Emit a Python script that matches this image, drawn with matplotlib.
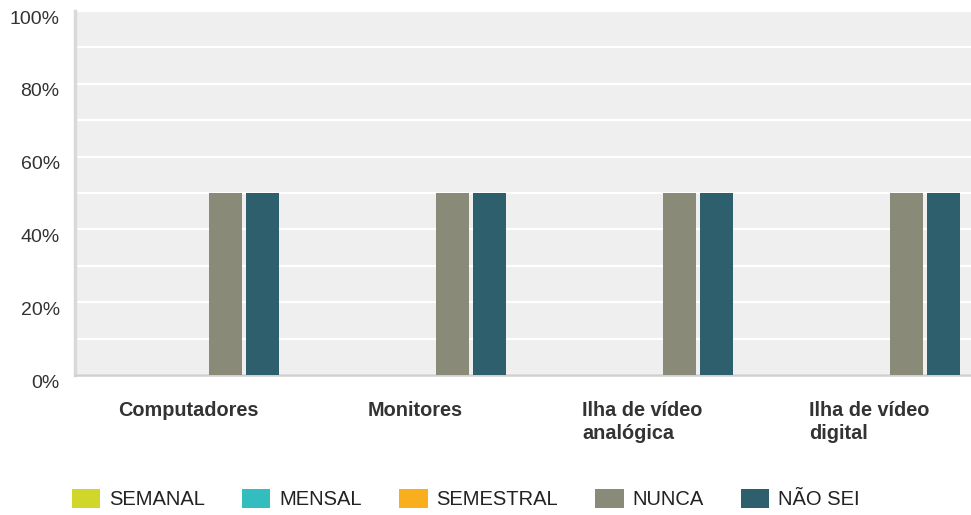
import numpy as np
import matplotlib
matplotlib.use("Agg")
import matplotlib.pyplot as plt
import matplotlib.transforms as mtransforms
from matplotlib.patches import FancyBboxPatch

plt.rcParams['font.family'] = ['Liberation Sans', 'DejaVu Sans']

# data
categories = ['Computadores', 'Monitores', 'Ilha de vídeo\nanalógica', 'Ilha de vídeo\ndigital']
series = ['SEMANAL', 'MENSAL', 'SEMESTRAL', 'NUNCA', 'NÃO SEI']
values = {
    'SEMANAL':   [0, 0, 0, 0],
    'MENSAL':    [0, 0, 0, 0],
    'SEMESTRAL': [0, 0, 0, 0],
    'NUNCA':     [50, 50, 50, 50],
    'NÃO SEI':   [50, 50, 50, 50],
}
colors = ['#d1d62b', '#33bdbf', '#f8ae1d', '#898a78', '#2e5f6d']
yticks = [0, 20, 40, 60, 80, 100]

fig = plt.figure(figsize=(9.71, 5.15), dpi=100)
ax = fig.add_axes([75 / 971, 140 / 515, 896 / 971, 364 / 515])
ax.set_facecolor('#efefef')

x = np.arange(len(categories))
slot = 37 / 227
bw = 33 / 227
for j, s in enumerate(series):
    ax.bar(x + (j - 2) * slot, values[s], width=bw, color=colors[j], label=s, zorder=3)

ax.set_xlim(-0.5, -0.5 + 896 / 227)
ax.set_ylim(0, 100)

# gridlines every 10%
ax.set_yticks(yticks)
ax.set_yticks(np.arange(10, 100, 10), minor=True)
ax.yaxis.grid(True, which='both', color='white', linewidth=1.6, zorder=1)
ax.set_axisbelow(True)
ax.tick_params(axis='y', which='both', length=0, pad=11, labelsize=14, labelcolor='#333333')
ax.set_yticklabels([f'{v}%' for v in yticks])
offset = mtransforms.ScaledTranslation(0, -6 / 100, fig.dpi_scale_trans)
for lab in ax.get_yticklabels():
    lab.set_transform(lab.get_transform() + offset)

ax.set_xticks(x)
ax.set_xticklabels(categories, fontsize=14.3, fontweight='bold', color='#333333',
                   multialignment='left', va='top', linespacing=1.25)
ax.tick_params(axis='x', length=0, pad=19)

for sp in ['top', 'right']:
    ax.spines[sp].set_visible(False)
ax.spines['left'].set_color('#d9d9d9')
ax.spines['left'].set_linewidth(2.5)
ax.spines['bottom'].set_color('#d0d0d0')
ax.spines['bottom'].set_linewidth(1.8)

# legend
handles = [FancyBboxPatch((0, 0), 1, 1, boxstyle='round,pad=0,rounding_size=0.1',
                          facecolor=c, edgecolor='none') for c in colors]
fig.legend(handles, series, loc='center', bbox_to_anchor=(466 / 971, 1 - 499 / 515),
           ncol=5, frameon=False, fontsize=14.5, handlelength=1.4, handleheight=1.1,
           handletextpad=0.45, columnspacing=1.85, labelcolor='#222222')

fig.savefig('out.png', dpi=100, facecolor='white')
